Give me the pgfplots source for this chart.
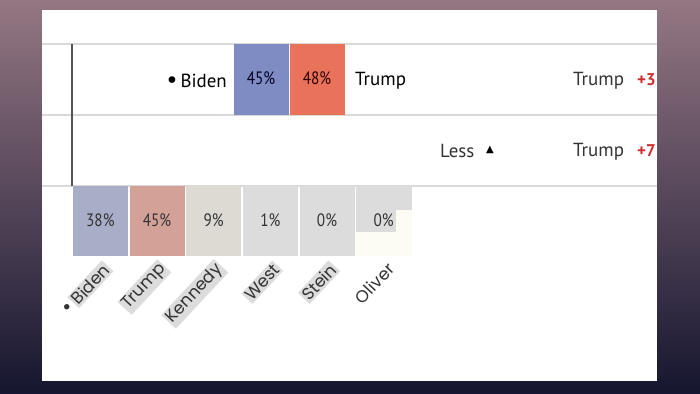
\documentclass[border=0pt]{standalone}
\usepackage{pgfplots}
\pgfplotsset{compat=1.18}
\usepackage{fontspec}
\setmainfont{PT Sans}
\newfontfamily\din[FakeStretch=0.85]{PT Sans}
\newfontfamily\mont{Poppins}
\newfontfamily\dv{DejaVu Sans}
\definecolor{bgTop}{HTML}{957783}
\definecolor{bgMid}{HTML}{3E3555}
\definecolor{bgBot}{HTML}{161630}
\definecolor{gridc}{HTML}{D9D9D9}
\definecolor{axc}{HTML}{555555}
\definecolor{topBlue}{HTML}{7F8BC3}
\definecolor{topRed}{HTML}{E8735A}
\definecolor{botBlue}{HTML}{A9AEC8}
\definecolor{botRed}{HTML}{D4A199}
\definecolor{kenC}{HTML}{DCDAD3}
\definecolor{cellC}{HTML}{DCDCDC}
\definecolor{offW}{HTML}{FDFCF4}
\definecolor{labgray}{HTML}{DCDCDC}
\definecolor{labtxt}{HTML}{333333}
\definecolor{plusred}{HTML}{D22B2B}
\newcommand\lab[1]{{\setlength{\fboxsep}{1.5pt}\colorbox{labgray}{#1}}}
\begin{document}
\begin{tikzpicture}
\begin{scope}[x=1bp,y=1bp]
\shade[top color=bgTop, middle color=bgMid, bottom color=bgBot] (0,0) rectangle (700,393);
\fill[white] (42,12) rectangle (657,383);
\draw[gridc, line width=1.6bp] (42,349) -- (657,349);
\draw[gridc, line width=1.6bp] (42,278) -- (657,278);
\draw[gridc, line width=1.6bp] (42,207) -- (657,207);
\draw[axc, line width=1.6bp] (72,207) -- (72,349);
\begin{scope}
\clip (42,12) rectangle (657,383);
\node[anchor=east, text=black, font=\fontsize{19}{19}\selectfont, inner sep=0pt] at (227,312) {{\fontsize{24}{24}\selectfont\textbullet}\,Biden};
\node[anchor=west, text=black, font=\fontsize{19}{19}\selectfont, inner sep=0pt] at (355,312) {Trump};
\node[anchor=west, text=labtxt, font=\fontsize{19}{19}\selectfont, inner sep=0pt] at (573,312) {Trump};
\node[anchor=west, text=plusred, font=\bfseries\fontsize{17}{17}\selectfont, inner sep=0pt] at (637,313) {+3};
\node[anchor=west, text=labtxt, font=\fontsize{19}{19}\selectfont, inner sep=0pt] at (440,242) {Less};
\node[anchor=west, text=black, font=\dv\fontsize{10}{10}\selectfont, inner sep=0pt] at (486,243) {▲};
\node[anchor=west, text=labtxt, font=\fontsize{19}{19}\selectfont, inner sep=0pt] at (573,241) {Trump};
\node[anchor=west, text=plusred, font=\bfseries\fontsize{17}{17}\selectfont, inner sep=0pt] at (637,242) {+7};
\end{scope}
\end{scope}

% top row: head-to-head cells
\begin{axis}[at={(233bp,278bp)}, anchor=south west, scale only axis,
  width=112bp, height=71bp, xmin=-0.5, xmax=1.5, ymin=0, ymax=1,
  ybar, bar width=55bp, hide axis, clip=false, point meta=explicit,
  /pgf/number format/assume math mode=true,
  nodes near coords={\pgfmathprintnumber{\pgfplotspointmeta}\%},
  nodes near coords style={anchor=center, yshift=-34bp, font=\din\fontsize{18}{18}\selectfont}]
\addplot[fill=topBlue, draw=none, bar shift=0pt, every node near coord/.append style={text=black!75!blue!60!black}] coordinates {(0,1) [45]};
\addplot[fill=topRed, draw=none, bar shift=0pt, every node near coord/.append style={text=black!70!red!60!black}] coordinates {(1,1) [48]};
\end{axis}

% bottom row: multi-candidate cells
\begin{axis}[at={(72bp,137bp)}, anchor=south west, scale only axis,
  width=340bp, height=70bp, xmin=-0.5, xmax=5.5, ymin=0, ymax=1,
  ybar, bar width=55bp, clip=false, axis line style={draw=none},
  ytick=\empty, xtick={0,1,2,3,4,5}, major tick length=0pt,
  xticklabels={{{\fontsize{22}{22}\selectfont\textbullet}\,\lab{Biden}},\lab{Trump},\lab{Kennedy},\lab{West},\lab{Stein},Oliver},
  xticklabel style={rotate=47, anchor=east, xshift=-1bp, yshift=-12bp, text=labtxt, font=\mont\fontsize{17}{17}\selectfont, inner sep=1pt},
  point meta=explicit,
  /pgf/number format/assume math mode=true,
  nodes near coords={\pgfmathprintnumber{\pgfplotspointmeta}\%},
  nodes near coords style={anchor=center, yshift=-34bp, text=black!80, font=\din\fontsize{18}{18}\selectfont}]
\addplot[fill=botBlue, draw=none, bar shift=0pt] coordinates {(0,1) [38]};
\addplot[fill=botRed, draw=none, bar shift=0pt] coordinates {(1,1) [45]};
\addplot[fill=kenC, draw=none, bar shift=0pt] coordinates {(2,1) [9]};
\addplot[fill=cellC, draw=none, bar shift=0pt] coordinates {(3,1) [1]};
\addplot[fill=cellC, draw=none, bar shift=0pt] coordinates {(4,1) [0]};
\fill[offW] (axis cs:4.515,0) rectangle (axis cs:5.5,1);
\fill[cellC] (axis cs:4.515,1) rectangle (axis cs:5.5,0.657);
\fill[cellC] (axis cs:4.515,0.66) rectangle (axis cs:5.22,0.343);
\addplot[fill=none, draw=none, bar shift=0pt] coordinates {(5,1) [0]};
\end{axis}
\end{tikzpicture}
\end{document}
